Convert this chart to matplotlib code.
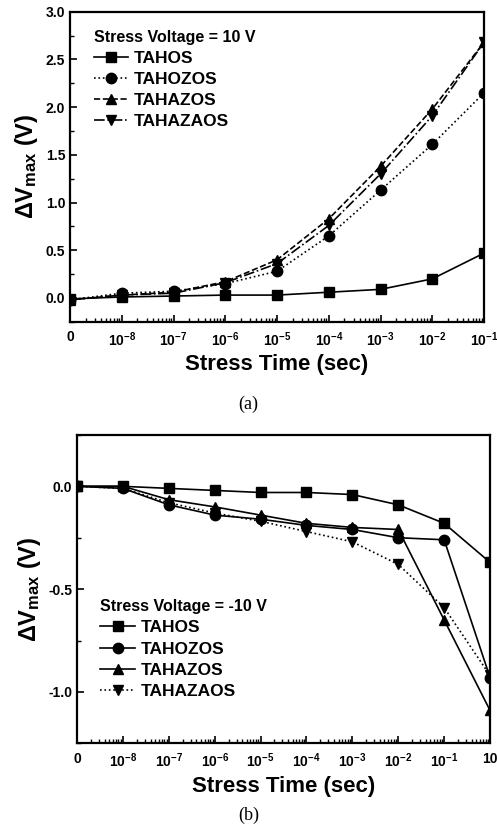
import matplotlib
matplotlib.use('Agg')
import matplotlib.pyplot as plt
import numpy as np

plt.rcParams['font.family'] = 'Liberation Sans'
plt.rcParams['font.weight'] = 'bold'
plt.rcParams['mathtext.fontset'] = 'custom'
plt.rcParams['mathtext.rm'] = 'Liberation Sans:bold'
plt.rcParams['mathtext.it'] = 'Liberation Sans:bold'
plt.rcParams['mathtext.bf'] = 'Liberation Sans:bold'

#===== data =====================================
names = ['TAHOS', 'TAHOZOS', 'TAHAZOS', 'TAHAZAOS']

# (a) stress voltage = 10 V
labels_a = ['0', r'$10^{-8}$', r'$10^{-7}$', r'$10^{-6}$', r'$10^{-5}$',
            r'$10^{-4}$', r'$10^{-3}$', r'$10^{-2}$', r'$10^{-1}$']
tahos_a    = [-0.01, 0.01, 0.02, 0.03, 0.03, 0.06, 0.09, 0.20, 0.47]
tahozos_a  = [-0.02, 0.05, 0.07, 0.15, 0.28, 0.65, 1.13, 1.61, 2.15]
tahazos_a  = [-0.02, 0.03, 0.06, 0.17, 0.40, 0.83, 1.38, 1.98, 2.68]
tahazaos_a = [-0.02, 0.03, 0.05, 0.16, 0.36, 0.76, 1.30, 1.91, 2.68]

# (b) stress voltage = -10 V
labels_b = ['0', r'$10^{-8}$', r'$10^{-7}$', r'$10^{-6}$', r'$10^{-5}$',
            r'$10^{-4}$', r'$10^{-3}$', r'$10^{-2}$', r'$10^{-1}$', '10']
tahos_b    = [0.0, 0.0, -0.01, -0.02, -0.03, -0.03, -0.04, -0.09, -0.18, -0.37]
tahozos_b  = [0.0, -0.01, -0.09, -0.14, -0.16, -0.19, -0.21, -0.25, -0.26, -0.93]
tahazos_b  = [0.0, 0.0, -0.065, -0.10, -0.14, -0.18, -0.20, -0.21, -0.65, -1.09]
tahazaos_b = [0.0, -0.01, -0.08, -0.13, -0.17, -0.22, -0.27, -0.38, -0.59, -0.92]

markers = ['s', 'o', '^', 'v']
styles_a = ['-', ':', '--', '-.']
styles_b = ['-', '-', '-', ':']


def setup(ax, labels):
    n = len(labels)
    x = np.arange(n)
    ax.set_xlim(0, n - 1)
    ax.set_xticks(x)
    ax.set_xticklabels(labels, fontsize=10, fontweight='bold')
    minor = [i + np.log10(k) for i in range(n - 1) for k in range(2, 10)]
    ax.set_xticks(minor, minor=True)
    ax.tick_params(axis='x', which='major', direction='in', length=5, width=1.2, pad=6)
    ax.tick_params(axis='x', which='minor', direction='in', length=3, width=1)
    ax.tick_params(axis='y', which='major', direction='in', length=5, width=1.2, labelsize=10)
    ax.tick_params(axis='y', which='minor', direction='in', length=3, width=1)
    for s in ax.spines.values():
        s.set_linewidth(1.6)
    ax.set_xlabel('Stress Time (sec)', fontsize=16, fontweight='bold')
    ax.set_ylabel(r'$\Delta V_{max}$ (V)', fontsize=17, fontweight='bold')
    return x


fig = plt.figure(figsize=(4.97, 8.38), dpi=100)

#===== panel (a) ================
ax1 = fig.add_axes([0.141, 0.616, 0.833, 0.370])
xa = setup(ax1, labels_a)
for ys, nm, m, ls in zip([tahos_a, tahozos_a, tahazos_a, tahazaos_a], names, markers, styles_a):
    ax1.plot(xa, ys, color='black', linestyle=ls, marker=m, markersize=7.5, lw=1.2, label=nm)
ax1.set_ylim(-0.2, 3.0)
ax1.set_yticks(np.arange(0, 3.01, 0.5))
ax1.set_yticks(np.arange(-0.25, 3.0, 0.25), minor=True)
ax1.set_yticklabels(['%.1f' % v for v in np.arange(0, 3.01, 0.5)], fontweight='bold')
ax1.legend(loc='upper left', bbox_to_anchor=(0.04, 0.965), frameon=False, fontsize=12.5,
           title='Stress Voltage = 10 V', title_fontproperties={'weight': 'bold', 'size': 11.5},
           handlelength=2.0, handletextpad=0.3, labelspacing=0.35, borderaxespad=0)
ax1.get_legend()._legend_box.align = 'left'
fig.text(0.5, 0.517, '(a)', ha='center', va='center', fontsize=13,
         family='Liberation Serif', fontweight='normal')

#===== panel (b) ================
ax2 = fig.add_axes([0.155, 0.113, 0.831, 0.368])
xb = setup(ax2, labels_b)
for ys, nm, m, ls in zip([tahos_b, tahozos_b, tahazos_b, tahazaos_b], names, markers, styles_b):
    ax2.plot(xb, ys, color='black', linestyle=ls, marker=m, markersize=7.5, lw=1.2, label=nm)
ax2.set_ylim(-1.24, 0.25)
ax2.set_yticks([-1.0, -0.5, 0.0])
ax2.set_yticks(np.arange(-1.25, 0.26, 0.25), minor=True)
ax2.set_yticklabels(['-1.0', '-0.5', '0.0'], fontweight='bold')
ax2.legend(loc='upper left', bbox_to_anchor=(0.04, 0.49), frameon=False, fontsize=12.5,
           title='Stress Voltage = -10 V', title_fontproperties={'weight': 'bold', 'size': 11.5},
           handlelength=2.0, handletextpad=0.3, labelspacing=0.35, borderaxespad=0)
ax2.get_legend()._legend_box.align = 'left'
fig.text(0.5, 0.027, '(b)', ha='center', va='center', fontsize=13,
         family='Liberation Serif', fontweight='normal')

fig.savefig('out.png', dpi=100)
